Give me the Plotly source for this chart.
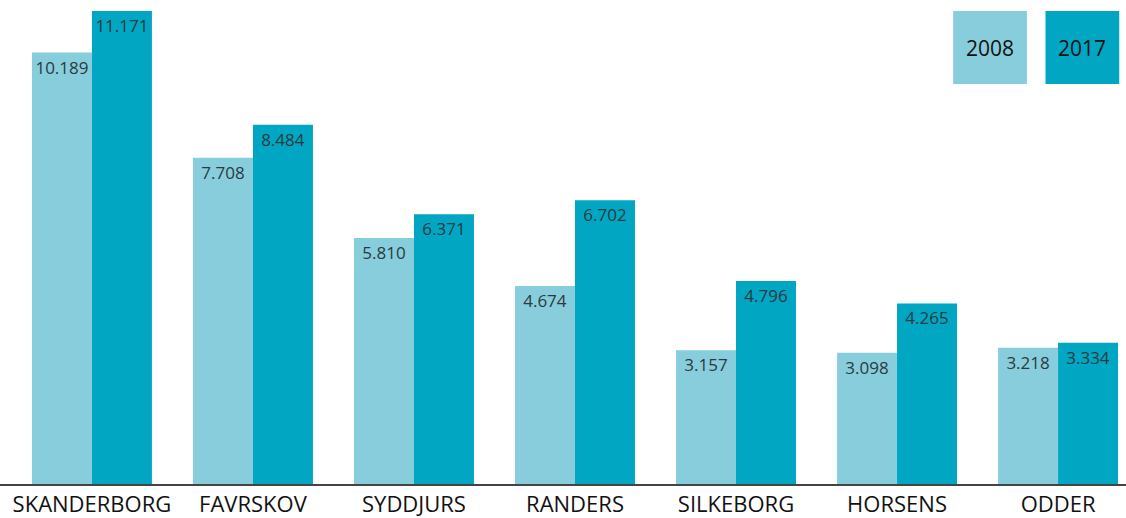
import plotly.graph_objects as go

categories = ["SKANDERBORG", "FAVRSKOV", "SYDDJURS", "RANDERS", "SILKEBORG", "HORSENS", "ODDER"]
values_2008 = [10189, 7708, 5810, 4674, 3157, 3098, 3218]
values_2017 = [11171, 8484, 6371, 6702, 4796, 4265, 3334]
series_names = ["2008", "2017"]
colors = ["#88CDDC", "#00A6C2"]

fig = go.Figure()
for name, vals, col in zip(series_names, [values_2008, values_2017], colors):
    fig.add_trace(go.Bar(
        x=categories, y=vals, name=name, marker=dict(color=col, line=dict(width=0)),
        texttemplate="%{y:,}", textposition="inside", insidetextanchor="end",
        textangle=0,
        textfont=dict(family="Open Sans", size=17, color="#2b3a40"),
        showlegend=False,
    ))

# legend boxes
legend_boxes = [(0.8465, 0.912), (0.9285, 0.994)]
for (x0, x1), name, col in zip(legend_boxes, series_names, colors):
    fig.add_shape(type="rect", xref="paper", yref="paper", x0=x0, x1=x1,
                  y0=1 - 84 / 484, y1=1 - 11 / 484, fillcolor=col, line=dict(width=0), layer="above")
    fig.add_annotation(xref="paper", yref="paper", x=(x0 + x1) / 2, y=1 - 47.5 / 484,
                       xanchor="center", yanchor="middle",
                       text=name, showarrow=False,
                       font=dict(family="Open Sans", size=21, color="#111111", weight=500))

fig.update_layout(
    width=1126, height=518,
    margin=dict(l=0, r=0, t=0, b=34),
    barmode="group", bargap=0.255, bargroupgap=0,
    plot_bgcolor="white", paper_bgcolor="white",
    separators=",.",
    uniformtext=dict(minsize=10, mode="show"),
    xaxis=dict(range=[-0.571, 6.422], showline=True, linecolor="#444444", linewidth=1.5,
               showgrid=False, zeroline=False, ticks="",
               tickfont=dict(family="Open Sans", size=22, color="#111111")),
    yaxis=dict(range=[0, 11431], visible=False, showgrid=False, zeroline=False),
)

fig.write_html("out.html", config={"displayModeBar": False},
               post_script="document.body.style.margin='0';document.body.style.padding='0';")
